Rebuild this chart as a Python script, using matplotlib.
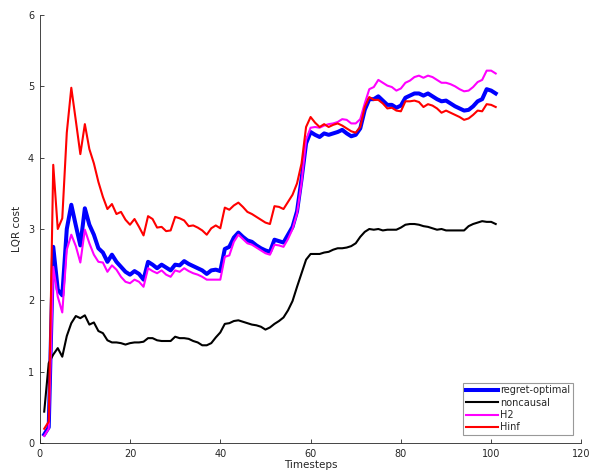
import matplotlib
matplotlib.use("Agg")
import matplotlib.pyplot as plt
import numpy as np

timesteps = list(range(1, 102))

regret_optimal = [
    0.12, 0.22, 2.75, 2.15, 2.07, 3.00, 3.34, 3.05, 2.77, 3.29,
    3.06, 2.92, 2.73, 2.67, 2.54, 2.64, 2.54, 2.47, 2.40, 2.36,
    2.41, 2.37, 2.29, 2.54, 2.50, 2.45, 2.50, 2.46, 2.42, 2.50,
    2.49, 2.55, 2.51, 2.48, 2.45, 2.42, 2.37, 2.42, 2.43, 2.41,
    2.72, 2.75, 2.88, 2.95, 2.89, 2.84, 2.82, 2.77, 2.73, 2.70,
    2.68, 2.85, 2.83, 2.81, 2.92, 3.03, 3.25, 3.70, 4.20, 4.36,
    4.32, 4.29, 4.34, 4.32, 4.34, 4.36, 4.39, 4.34, 4.30, 4.32,
    4.41, 4.67, 4.82, 4.82, 4.86, 4.80, 4.74, 4.74, 4.70, 4.73,
    4.84, 4.87, 4.90, 4.90, 4.87, 4.90, 4.86, 4.82, 4.79, 4.80,
    4.76, 4.72, 4.69, 4.66, 4.67, 4.72, 4.79, 4.82, 4.96, 4.94,
    4.90,
]

noncausal = [
    0.44, 1.12, 1.24, 1.33, 1.21, 1.50, 1.68, 1.78, 1.75, 1.79,
    1.66, 1.69, 1.57, 1.54, 1.44, 1.41, 1.41, 1.40, 1.38, 1.40,
    1.41, 1.41, 1.42, 1.47, 1.47, 1.44, 1.43, 1.43, 1.43, 1.49,
    1.47, 1.47, 1.46, 1.43, 1.41, 1.37, 1.37, 1.40, 1.48, 1.55,
    1.67, 1.68, 1.71, 1.72, 1.70, 1.68, 1.66, 1.65, 1.63, 1.59,
    1.62, 1.67, 1.71, 1.76, 1.86, 1.99, 2.19, 2.38, 2.57, 2.65,
    2.65, 2.65, 2.67, 2.68, 2.71, 2.73, 2.73, 2.74, 2.76, 2.80,
    2.89, 2.96, 3.00, 2.99, 3.00, 2.98, 2.99, 2.99, 2.99, 3.02,
    3.06, 3.07, 3.07, 3.06, 3.04, 3.03, 3.01, 2.99, 3.00, 2.98,
    2.98, 2.98, 2.98, 2.98, 3.04, 3.07, 3.09, 3.11, 3.10, 3.10,
    3.07,
]

h2 = [
    0.10, 0.20, 2.47, 2.05, 1.83, 2.71, 2.92, 2.76, 2.53, 2.99,
    2.80, 2.64, 2.54, 2.53, 2.40, 2.49, 2.43, 2.33, 2.26, 2.24,
    2.29, 2.26, 2.19, 2.45, 2.41, 2.38, 2.42, 2.36, 2.33, 2.42,
    2.40, 2.45, 2.41, 2.38, 2.36, 2.33, 2.29, 2.29, 2.29, 2.29,
    2.61, 2.63, 2.82, 2.92, 2.86, 2.80, 2.78, 2.74, 2.70, 2.66,
    2.64, 2.78, 2.77, 2.75, 2.86, 3.00, 3.22, 3.65, 4.25, 4.42,
    4.43, 4.42, 4.45, 4.47, 4.48, 4.50, 4.54, 4.53, 4.48, 4.48,
    4.54, 4.76, 4.96, 4.99, 5.09, 5.05, 5.01, 4.99, 4.94, 4.97,
    5.05, 5.08, 5.13, 5.15, 5.12, 5.15, 5.13, 5.09, 5.05, 5.05,
    5.03, 5.00, 4.96, 4.93, 4.94, 4.99, 5.06, 5.09, 5.22, 5.22,
    5.18,
]

hinf = [
    0.20, 0.30, 3.90, 3.00, 3.15, 4.35, 4.98, 4.52, 4.05, 4.47,
    4.12, 3.92, 3.66, 3.45, 3.28, 3.35, 3.21, 3.24, 3.13, 3.06,
    3.14, 3.03, 2.91, 3.18, 3.14, 3.02, 3.03, 2.97, 2.98, 3.17,
    3.15, 3.12, 3.04, 3.05, 3.02, 2.98, 2.92, 3.01, 3.05, 3.01,
    3.30, 3.27, 3.33, 3.37, 3.31, 3.24, 3.21, 3.17, 3.13, 3.09,
    3.07, 3.32, 3.31, 3.28, 3.38, 3.48, 3.64, 3.92, 4.43, 4.57,
    4.49, 4.43, 4.47, 4.43, 4.46, 4.48, 4.45, 4.41, 4.37, 4.35,
    4.43, 4.71, 4.85, 4.81, 4.81, 4.76, 4.69, 4.70, 4.66, 4.65,
    4.79, 4.79, 4.80, 4.78, 4.71, 4.75, 4.73, 4.69, 4.63, 4.66,
    4.63, 4.60, 4.57, 4.53, 4.55, 4.60, 4.66, 4.65, 4.75, 4.74,
    4.71,
]

labels = ["regret-optimal", "noncausal", "H2", "Hinf"]
xticks = [0, 20, 40, 60, 80, 100, 120]
yticks = [0, 1, 2, 3, 4, 5, 6]

plt.rcParams['font.family'] = ['DejaVu Sans']

fig = plt.figure(figsize=(5.97, 4.76), dpi=100)
ax = fig.add_axes([0.0665, 0.0693, 0.9075, 0.8992])

ax.plot(timesteps, regret_optimal, color="#0000ff", lw=2.9, label=labels[0])
ax.plot(timesteps, noncausal, color="#000000", lw=1.5, label=labels[1])
ax.plot(timesteps, h2, color="#ff00ff", lw=1.5, label=labels[2])
ax.plot(timesteps, hinf, color="#ff0000", lw=1.5, label=labels[3])

ax.set_xlim(0, 120)
ax.set_ylim(0, 6)
ax.set_xticks(xticks)
ax.set_yticks(yticks)

axis_col = "#262626"
for s in ["top", "right"]:
    ax.spines[s].set_visible(False)
for s in ["left", "bottom"]:
    ax.spines[s].set_color(axis_col)
    ax.spines[s].set_linewidth(0.6)
ax.tick_params(direction="in", length=3, width=0.6, colors=axis_col,
               labelsize=7, pad=4)

ax.set_xlabel("Timesteps", fontsize=7.5, color=axis_col, labelpad=1)
ax.set_ylabel("LQR cost", fontsize=7.5, color=axis_col, labelpad=4)

leg = ax.legend(loc="lower right", bbox_to_anchor=(0.984, 0.019), fontsize=7,
                frameon=True, fancybox=False, handlelength=3.3,
                handletextpad=0.25, labelspacing=0.25, borderpad=0.25,
                borderaxespad=0.0)
leg.get_frame().set_edgecolor("#808080")
leg.get_frame().set_linewidth(0.8)
for t in leg.get_texts():
    t.set_color(axis_col)

fig.savefig("out.png", dpi=100)
